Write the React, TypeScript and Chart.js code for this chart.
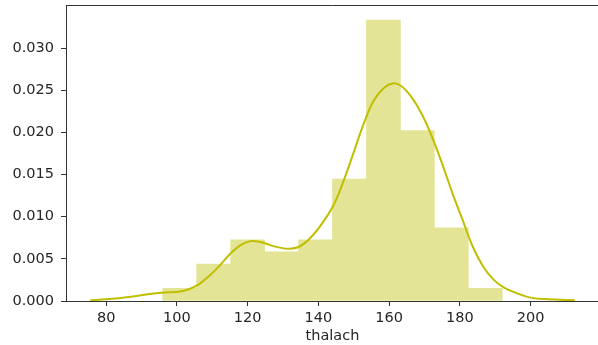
import React, { useEffect, useRef } from "react";
import { Chart, registerables } from "chart.js";

Chart.register(...registerables);

// Histogram (density) of thalach
const binStart = 96;
const binWidth = 9.6;
const binDensity = [0.0015, 0.00438, 0.00726, 0.00584, 0.00726, 0.01445, 0.0333, 0.0202, 0.00869, 0.0015];

// KDE curve
const kdeX = [75.5, 80, 87, 91.8, 96.4, 100.5, 103.4, 106.3, 109.2, 112.1, 115.1, 117.9, 120.8, 123.7, 126.6, 129.5, 131.5, 134.4, 137.3, 140.2, 144.1, 147, 149.9, 152.8, 155.7, 158.6, 161, 163.4, 166.3, 169.2, 172.1, 175, 177.9, 180.8, 183.7, 186.6, 189.6, 192.5, 196.3, 200, 205, 212.5];
const kdeY = [0.0001, 0.0002, 0.0005, 0.0008, 0.001, 0.0011, 0.0014, 0.002, 0.003, 0.0042, 0.0056, 0.0066, 0.0071, 0.007, 0.0066, 0.0063, 0.0062, 0.0064, 0.0073, 0.0087, 0.0112, 0.0141, 0.0175, 0.021, 0.0238, 0.0253, 0.0258, 0.0255, 0.0242, 0.0222, 0.0195, 0.0163, 0.0128, 0.0096, 0.0064, 0.0041, 0.0025, 0.0016, 0.0009, 0.0004, 0.0002, 0.0001];

const xTicks = [80, 100, 120, 140, 160, 180, 200];
const yTicks = [0, 0.005, 0.01, 0.015, 0.02, 0.025, 0.03];
const xLabel = "thalach";

const FONT = "'DejaVu Sans', sans-serif";
const TEXT = "#262626";
const AXIS = "#333333";

export default function App() {
  const ref = useRef<HTMLCanvasElement | null>(null);
  useEffect(() => {
    if (!ref.current) return;
    const topSpine = {
      id: "topSpine",
      afterDraw(chart: any) {
        const { ctx, chartArea } = chart;
        ctx.save();
        ctx.strokeStyle = AXIS;
        ctx.lineWidth = 1;
        ctx.beginPath();
        ctx.moveTo(chartArea.left, Math.round(chartArea.top) + 0.5);
        ctx.lineTo(chartArea.right, Math.round(chartArea.top) + 0.5);
        ctx.stroke();
        ctx.restore();
      },
    };
    const chart = new Chart(ref.current, {
      type: "bar",
      data: {
        datasets: [
          {
            type: "line",
            data: kdeX.map((x, i) => ({ x, y: kdeY[i] })),
            borderColor: "#bfbf00",
            borderWidth: 2,
            pointRadius: 0,
            tension: 0.4,
            fill: false,
            order: 0,
          } as any,
          {
            type: "bar",
            data: binDensity.map((d, i) => ({ x: binStart + binWidth * (i + 0.5), y: d })),
            backgroundColor: "#e3e496",
            borderWidth: 0,
            barPercentage: 1,
            categoryPercentage: 1,
            order: 1,
          } as any,
        ],
      },
      options: {
        responsive: false,
        animation: false,
        layout: { padding: { top: 5, right: 1, left: 0, bottom: 0 } },
        plugins: { legend: { display: false }, tooltip: { enabled: false }, title: { display: false } },
        scales: {
          x: {
            type: "linear",
            offset: false,
            min: 68.65,
            max: 219.35,
            afterBuildTicks: (s: any) => { s.ticks = xTicks.map((v) => ({ value: v })); },
            afterFit: (s: any) => { s.height = 44; s.paddingLeft = 0; s.paddingRight = 0; },
            grid: { display: true, offset: false, drawOnChartArea: false, drawTicks: true, tickLength: 5, color: AXIS },
            border: { display: true, color: AXIS, width: 1 },
            ticks: { color: TEXT, font: { family: FONT, size: 14.5 }, padding: 4, maxRotation: 0, autoSkip: false },
            title: { display: true, text: xLabel, color: TEXT, font: { family: FONT, size: 14.5 }, padding: { top: 1, bottom: 0 } },
          },
          y: {
            type: "linear",
            min: 0,
            max: 0.0351,
            afterBuildTicks: (s: any) => { s.ticks = yTicks.map((v) => ({ value: v })); },
            afterFit: (s: any) => { s.width = 66; s.paddingTop = 0; s.paddingBottom = 0; },
            grid: { display: true, offset: false, drawOnChartArea: false, drawTicks: true, tickLength: 5, color: AXIS },
            border: { display: true, color: AXIS, width: 1 },
            ticks: {
              color: TEXT,
              font: { family: FONT, size: 14.5 },
              padding: 7,
              callback: (v: any) => Number(v).toFixed(3),
            },
          },
        },
      },
      plugins: [topSpine],
    });
    return () => chart.destroy();
  }, []);
  return (
    <div style={{ position: "fixed", left: 0, top: 0, width: 598, height: 345, overflow: "hidden", background: "#fff" }}>
      <canvas ref={ref} width={600} height={345} style={{ display: "block", width: 600, height: 345 }} />
    </div>
  );
}
